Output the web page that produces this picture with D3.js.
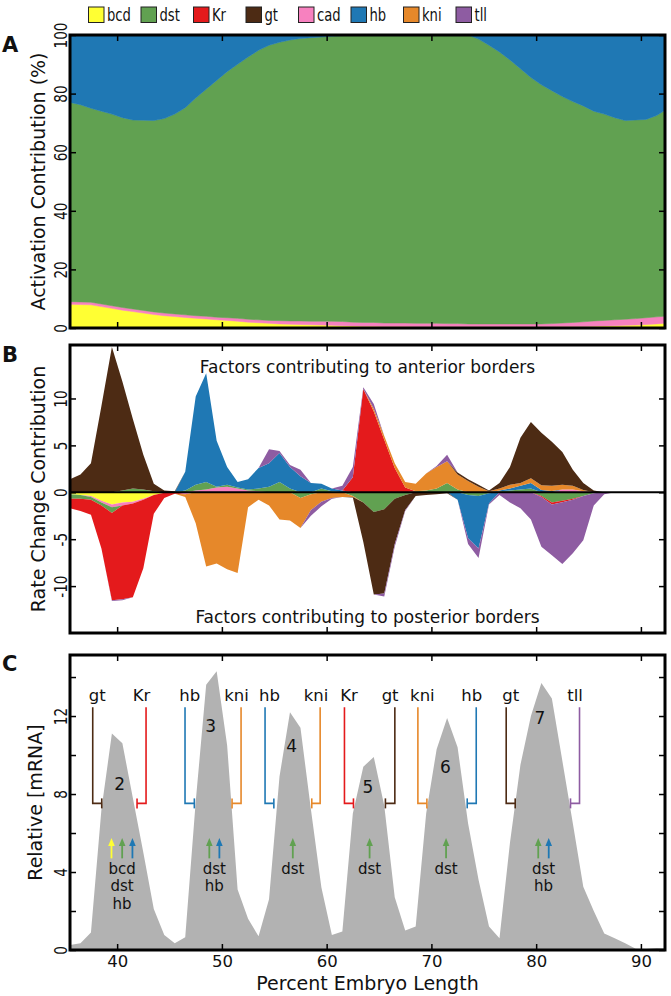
<!DOCTYPE html>
<html><head><meta charset="utf-8">
<script src="https://cdn.jsdelivr.net/npm/d3@7"></script>
<style>
body{margin:0;background:#fff}
svg{display:block}
text{font-family:"DejaVu Sans",sans-serif;fill:#111}
</style>
</head><body>
<svg id="chart" width="671" height="996"></svg>
<script>
// ---------------- DATA ----------------
const positions = [35.5,36.5,37.5,38.5,39.5,40.5,41.5,42.5,43.5,44.5,
  45.5,46.5,47.5,48.5,49.5,50.5,51.5,52.5,53.5,54.5,
  55.5,56.5,57.5,58.5,59.5,60.5,61.5,62.5,63.5,64.5,
  65.5,66.5,67.5,68.5,69.5,70.5,71.5,72.5,73.5,74.5,
  75.5,76.5,77.5,78.5,79.5,80.5,81.5,82.5,83.5,84.5,
  85.5,86.5,87.5,88.5,89.5,90.5,91.5,92.5];

const legendFactors = ["bcd","dst","Kr","gt","cad","hb","kni","tll"];
const factorColors = {bcd:"#ffff33",dst:"#61a151",Kr:"#e41a1c",gt:"#4d2b14",
  cad:"#f781bf",hb:"#1f78b4",kni:"#e6882a",tll:"#8e5ca2"};

// Panel A: activation contribution (%)
const actBcd = [8.1,8.0,7.9,7.3,6.7,6.1,5.6,5.1,4.6,4.2,
  3.9,3.6,3.3,3.1,2.8,2.6,2.3,2.0,1.8,1.6,
  1.4,1.3,1.2,1.1,1.0,0.9,0.8,0.7,0.6,0.6,
  0.5,0.5,0.5,0.4,0.4,0.4,0.4,0.4,0.4,0.4,
  0.4,0.4,0.4,0.4,0.4,0.4,0.4,0.5,0.5,0.5,
  0.6,0.7,0.8,0.9,1.0,1.2,1.4,1.7];
const actCad = [0.9,0.9,0.9,0.9,0.9,0.9,0.9,0.9,0.9,0.9,
  0.9,0.9,0.9,0.9,0.9,0.9,1.0,1.0,1.0,1.0,
  1.1,1.1,1.2,1.2,1.3,1.4,1.4,1.3,1.3,1.3,
  1.2,1.2,1.2,1.2,1.2,1.2,1.1,1.1,1.0,1.0,
  1.0,1.0,1.0,1.0,1.0,1.0,1.1,1.2,1.4,1.6,
  1.8,1.9,2.0,2.1,2.2,2.3,2.4,2.4];
const actDst = [68.0,67.3,66.2,65.8,65.4,64.8,64.5,64.9,65.3,66.4,
  68.2,70.7,74.3,77.5,80.8,84.0,86.7,89.5,92.0,93.9,
  95.0,95.9,96.4,96.8,97.0,97.3,97.6,98.0,98.1,98.1,
  98.3,98.3,98.3,98.4,98.4,98.4,98.5,98.5,98.6,97.2,
  95.1,92.8,90.1,87.1,84.1,81.6,79.5,77.3,75.4,73.7,
  71.6,70.4,69.0,67.8,67.8,67.7,68.7,70.7];
const actHb = [23.0,23.8,25.0,26.0,27.0,28.2,29.0,29.1,29.2,28.5,
  27.0,24.8,21.5,18.5,15.5,12.5,10.0,7.5,5.2,3.5,
  2.5,1.7,1.2,0.9,0.7,0.4,0.2,0,0,0,
  0,0,0,0,0,0,0,0,0,1.4,
  3.5,5.8,8.5,11.5,14.5,17.0,19.0,21.0,22.7,24.2,
  26.0,27.0,28.2,29.2,29.0,28.8,27.5,25.2];

// Panel B: rate change contribution (signed: + anterior, - posterior)
const rcBcd = [-0.2,-0.3,-0.4,-0.9,-1.3,-1.1,-1.0,-0.7,-0.3,-0.05,
  0,0,0,0,0,0,0,0,0,0, 0,0,0,0,0,0,0,0,0,0,
  0,0,0,0,0,0,0,0,0,0, 0,0,0,0,0,0,0,0,0,0, 0,0,0,0,0,0,0,0];
const rcCad = [0,0,-0.1,-0.2,-0.3,-0.3,-0.2,-0.1,0,0,
  0,-0.2,0.2,0.3,0.5,0.6,0.4,0.2,0.1,0,
  0,0,0,0,0,0,0,0,0,0, 0,0,0,0,0,0,0,0,0,0,
  0,0,0,0,0,0,0,0.3,0.3,0.1, 0,0,0,0,0,0,0,0];
const rcDst = [-0.5,-0.4,-0.3,-0.3,-0.6,0.2,0.4,0.3,0.1,0,
  0,0.2,0.6,0.8,0.1,0.2,0.1,0.1,0.3,0.6,
  1.1,0.4,-0.6,-0.2,0.4,0.1,0,-0.4,-1.1,-2.1,
  -1.8,-0.7,-0.3,0.1,0.2,0.4,1.0,0.3,-0.3,-0.4,
  -0.1,0.1,0.2,0.3,0.4,-0.4,-1.1,-0.9,-0.7,-0.4,
  -0.1,0,0,0,0,0,0,0];
const rcHb = [0,0,0,0,0,0,0,0,0,0,
  0,2.0,9.4,11.6,4.9,1.9,0.6,1.1,2.2,2.5,
  3.1,2.3,1.7,1.0,0.5,0.3,0.2,0,0,0,
  0,0,0,0,0,0,0,-0.8,-4.6,-5.6,
  -1.1,0.1,0.2,0.4,0.6,0.25,0.15,0,0,0,
  0,0,0,0,0,0,0,0];
const rcKr = [-1.0,-1.3,-1.6,-4.6,-9.3,-10.0,-10.0,-7.3,-2.0,-0.55,
  -0.15,0,0,0,0,0,0,0,0,0,
  0,0,0,0,0,0,0,1.6,11.0,8.6,
  5.6,2.6,0.5,0,0,0,0,0,0,0,
  0,0,0,0,0,-0.1,-0.2,-0.15,-0.1,0,
  0,0,0,0,0,0,0,0];
const rcKni = [0,0,0,0,0,0,0,0,0,0,
  0,-0.3,-3.3,-7.9,-7.6,-8.2,-8.6,-1.6,-0.8,-1.4,
  -2.9,-3.0,-3.2,-1.7,-1.0,-0.6,-0.5,-0.1,0,0.3,
  0.4,0.5,0.6,0.8,1.8,2.3,2.3,1.6,1.2,0.6,
  0.1,0.2,0.4,0.3,0.5,0.5,0.55,0.5,0.4,0.15,
  0,0,0,0,0,0,0,0];
const rcGt = [1.4,1.9,3.1,9.2,15.5,11.6,7.4,3.7,0.8,0.2,
  0.1,0,0,0,0,0,0,0,0,0,
  0,0,0,0,0,0,0,-0.05,-4.2,-8.8,
  -9.0,-4.8,-1.6,-0.4,-0.3,-0.2,-0.1,0.2,0.2,0.2,
  0.1,0.6,1.9,4.8,6.0,5.6,4.7,3.5,1.7,0.75,
  0.2,0,0,0,0,0,0,0];
const rcTll = [0,0,0,0,-0.1,-0.1,0,0,0,0,
  0,0,0,0,0,0,0,0,0,1.5,
  0.2,0.2,0.7,-0.6,-0.5,-0.1,0.5,1.1,0.2,0.5,
  -0.3,-0.3,-0.1,0,0,0.1,0.7,0,-0.6,-1.0,
  -0.1,-0.3,-1.1,-1.7,-2.9,-5.3,-5.4,-6.6,-5.7,-4.7,
  -1.3,-0.2,0,0,0,0,0,0];

// Panel C: relative mRNA
const mrna = [0.26,0.34,0.9,7.2,11.1,10.6,7.8,5.0,2.1,0.77,
  0.34,0.65,7.6,13.6,14.3,10.5,3.1,1.6,0.7,2.6,
  8.9,12.2,11.4,7.2,3.2,0.77,0.95,7.0,9.4,9.9,
  7.4,2.7,1.0,1.2,7.0,10.3,11.9,10.4,6.5,3.6,
  1.2,0.6,5.5,9.5,12.0,13.7,12.9,9.7,6.5,3.25,
  2.0,0.85,0.6,0.35,0.06,0.05,0.1,0.08];

const xTicks = [40,50,60,70,80,90];
const yTicksA = [0,20,40,60,80,100];
const yTicksB = [-10,-5,0,5,10];
const yTicksC = [0,2,4,6,8,10,12,14];
const yLabelsC = [0,4,8,12];

// repressor brackets (gene, stem position, end position)
const repressors = [
  {name:"gt", x:37.67, tip:38.53}, {name:"Kr", x:42.76, tip:41.90},
  {name:"hb", x:46.48, tip:47.37}, {name:"kni", x:51.83, tip:50.97},
  {name:"hb", x:54.12, tip:54.96}, {name:"kni", x:59.38, tip:58.58},
  {name:"Kr", x:61.70, tip:62.56}, {name:"gt", x:66.51, tip:65.61},
  {name:"kni", x:68.71, tip:69.57}, {name:"hb", x:74.28, tip:73.42},
  {name:"gt", x:77.14, tip:78.00}, {name:"tll", x:84.14, tip:83.28}
];
const bracketTop = 12.45, bracketBottom = 7.52, bracketLabelY = 12.77;
// activators per stripe
const activators = [
  {factors:["bcd","dst","hb"], xs:[39.46,40.48,41.46]},
  {factors:["dst","hb"], xs:[48.8,49.76]},
  {factors:["dst"], xs:[56.77]},
  {factors:["dst"], xs:[64.1]},
  {factors:["dst"], xs:[71.4]},
  {factors:["dst","hb"], xs:[80.2,81.2]}
];
const arrowBase = 4.7, arrowTip = 5.74, activatorLabelY = 4.19;
const stripes = [
  {n:"2", x:40.24, y:8.5}, {n:"3", x:48.94, y:11.5}, {n:"4", x:56.67, y:10.46},
  {n:"5", x:63.93, y:8.37}, {n:"6", x:71.34, y:9.4}, {n:"7", x:80.37, y:11.88}
];

// ---------------- DRAW ----------------
const svg = d3.select("#chart");
const X0 = 70, X1 = 665;
const x = d3.scaleLinear().domain([35.5, 92.3]).range([X0, X1]);
const yA = d3.scaleLinear().domain([0, 100]).range([328, 35]);
const yB = d3.scaleLinear().domain([-15, 15.7]).range([633, 345]);
const yC = d3.scaleLinear().domain([0, 15.13]).range([950, 655]);

const defs = svg.append("defs");
function clip(id, y){
  defs.append("clipPath").attr("id", id).append("rect")
    .attr("x", X0).attr("y", y.range()[1]).attr("width", X1 - X0)
    .attr("height", y.range()[0] - y.range()[1]);
}
clip("clipA", yA); clip("clipB", yB); clip("clipC", yC);

// Legend
const leg = svg.append("g");
legendFactors.forEach((f, i) => {
  const lx = 88.5 + i * 52.5;
  leg.append("rect").attr("x", lx).attr("y", 7).attr("width", 15.5).attr("height", 15.5)
    .attr("fill", factorColors[f]).attr("stroke", "#222").attr("stroke-width", 1);
  const t = leg.append("text").attr("x", lx + 18.5).attr("y", 20.5)
    .attr("font-size", 18).text(f);
  const w = t.node().getComputedTextLength();
  t.attr("textLength", w * 0.73).attr("lengthAdjust", "spacingAndGlyphs");
});

// Panel A
const tableA = positions.map((p, i) => ({x:p, bcd:actBcd[i], cad:actCad[i], dst:actDst[i], hb:actHb[i]}));
const stackA = d3.stack().keys(["bcd","cad","dst","hb"])(tableA);
const areaA = d3.area().x(d => x(d.data.x)).y0(d => yA(d[0])).y1(d => yA(d[1]));
svg.append("g").attr("clip-path", "url(#clipA)").selectAll("path").data(stackA).join("path")
  .attr("d", areaA).attr("fill", d => factorColors[d.key])
  .attr("stroke", d => factorColors[d.key]).attr("stroke-width", 0.5);

// Panel B: anterior (positive) parts stacked upward, posterior (negative) parts downward
const keysB = ["bcd","cad","dst","hb","Kr","kni","gt","tll"];
const seriesB = {bcd:rcBcd, cad:rcCad, dst:rcDst, hb:rcHb, Kr:rcKr, kni:rcKni, gt:rcGt, tll:rcTll};
const tableB = positions.map((p, i) => {
  const o = {x:p}; keysB.forEach(k => o[k] = seriesB[k][i]); return o;
});
const stackPos = d3.stack().keys(keysB).value((d, k) => Math.max(d[k], 0))(tableB);
const stackNeg = d3.stack().keys(keysB).value((d, k) => Math.min(d[k], 0))(tableB);
const areaB = d3.area().x(d => x(d.data.x)).y0(d => yB(d[0])).y1(d => yB(d[1]));
const gB = svg.append("g").attr("clip-path", "url(#clipB)");
gB.selectAll("path.pos").data(stackPos).join("path").attr("class", "pos")
  .attr("d", areaB).attr("fill", d => factorColors[d.key]);
gB.selectAll("path.neg").data(stackNeg).join("path").attr("class", "neg")
  .attr("d", areaB).attr("fill", d => factorColors[d.key]);
svg.append("line").attr("x1", X0).attr("x2", X1).attr("y1", yB(0)).attr("y2", yB(0))
  .attr("stroke", "#000").attr("stroke-width", 2);
svg.append("text").attr("x", 367.5).attr("y", 372.5).attr("text-anchor", "middle")
  .attr("font-size", 17).text("Factors contributing to anterior borders");
svg.append("text").attr("x", 367.5).attr("y", 623).attr("text-anchor", "middle")
  .attr("font-size", 17).text("Factors contributing to posterior borders");

// Panel C
const tableC = positions.map((p, i) => ({x:p, v:mrna[i]}));
svg.append("g").attr("clip-path", "url(#clipC)").append("path").datum(tableC)
  .attr("d", d3.area().x(d => x(d.x)).y0(yC(0)).y1(d => yC(d.v)))
  .attr("fill", "#b2b2b2");

const ann = svg.append("g");
repressors.forEach(r => {
  const c = factorColors[r.name];
  ann.append("path")
    .attr("d", `M${x(r.x)},${yC(bracketTop)}V${yC(bracketBottom)}H${x(r.tip)}`)
    .attr("fill", "none").attr("stroke", c).attr("stroke-width", 1.6);
  ann.append("line").attr("x1", x(r.tip)).attr("x2", x(r.tip))
    .attr("y1", yC(bracketBottom) - 5).attr("y2", yC(bracketBottom) + 5)
    .attr("stroke", c).attr("stroke-width", 1.6);
  ann.append("text").attr("x", x((r.x + r.tip) / 2)).attr("y", yC(bracketLabelY))
    .attr("text-anchor", "middle").attr("font-size", 16.5).text(r.name);
});
activators.forEach(a => {
  a.factors.forEach((f, i) => {
    const c = factorColors[f], ax = x(a.xs[i]), tipY = yC(arrowTip);
    ann.append("line").attr("x1", ax).attr("x2", ax).attr("y1", yC(arrowBase)).attr("y2", tipY + 6)
      .attr("stroke", c).attr("stroke-width", 1.8);
    ann.append("path").attr("d", `M${ax},${tipY}L${ax - 3.3},${tipY + 8}L${ax + 3.3},${tipY + 8}Z`)
      .attr("fill", c);
  });
  const cx = x(d3.mean(a.xs));
  a.factors.forEach((f, i) => {
    ann.append("text").attr("x", cx).attr("y", yC(activatorLabelY) + i * 17.5)
      .attr("dy", "0.35em").attr("text-anchor", "middle").attr("font-size", 15).text(f);
  });
});
stripes.forEach(s => {
  ann.append("text").attr("x", x(s.x)).attr("y", yC(s.y)).attr("dy", "0.35em")
    .attr("text-anchor", "middle").attr("font-size", 17).text(s.n);
});

// Axes and frames
function styleAxis(g){
  g.select(".domain").remove();
  g.selectAll(".tick line").attr("stroke", "#000").attr("stroke-width", 1.5);
  g.attr("font-family", null).attr("font-size", null);
}
function frame(y, yTicks, yLabels, xLabels){
  const top = y.range()[1], bottom = y.range()[0];
  svg.append("g").attr("transform", `translate(0,${bottom})`)
    .call(d3.axisBottom(x).tickValues(xTicks).tickSize(-6).tickPadding(5)
      .tickFormat(xLabels ? d3.format("d") : () => ""))
    .call(styleAxis)
    .selectAll("text").attr("font-size", 16.5).attr("fill", "#111");
  svg.append("g").attr("transform", `translate(0,${top})`)
    .call(d3.axisTop(x).tickValues(xTicks).tickSize(-6).tickFormat(() => ""))
    .call(styleAxis);
  svg.append("g").attr("transform", `translate(${X1},0)`)
    .call(d3.axisRight(y).tickValues(yTicks).tickSize(-6).tickFormat(() => ""))
    .call(styleAxis);
  const gl = svg.append("g").attr("transform", `translate(${X0},0)`)
    .call(d3.axisLeft(y).tickValues(yTicks).tickSize(-6)
      .tickFormat(v => yLabels.includes(v) ? String(v) : ""))
    .call(styleAxis);
  gl.selectAll("text").attr("x", 0).attr("dy", "0.36em").attr("text-anchor", "middle")
    .attr("transform", "translate(-9,0) rotate(-90)").attr("font-size", 17).attr("fill", "#111")
    .each(function(){
      if (!this.textContent) return;
      const w = this.getComputedTextLength();
      d3.select(this).attr("textLength", w * 0.8).attr("lengthAdjust", "spacingAndGlyphs");
    });
  svg.append("rect").attr("x", X0).attr("y", top).attr("width", X1 - X0).attr("height", bottom - top)
    .attr("fill", "none").attr("stroke", "#000").attr("stroke-width", 3);
}
frame(yA, yTicksA, yTicksA, false);
frame(yB, yTicksB, yTicksB, false);
frame(yC, yTicksC, yLabelsC, true);

// Axis titles
function yTitle(txt, cx, cy){
  svg.append("text").attr("transform", `translate(${cx},${cy}) rotate(-90)`)
    .attr("text-anchor", "middle").attr("font-size", 19).text(txt);
}
yTitle("Activation Contribution (%)", 45, 181.5);
yTitle("Rate Change Contribution", 45, 489);
yTitle("Relative [mRNA]", 42, 802.5);
svg.append("text").attr("x", 367.5).attr("y", 990).attr("text-anchor", "middle")
  .attr("font-size", 19).text("Percent Embryo Length");

// Panel letters
[["A", 51.7], ["B", 361.7], ["C", 670.7]].forEach(([l, yy]) => {
  svg.append("text").attr("x", 2).attr("y", yy).attr("font-size", 21)
    .attr("font-weight", "bold").text(l);
});
</script>
</body></html>
